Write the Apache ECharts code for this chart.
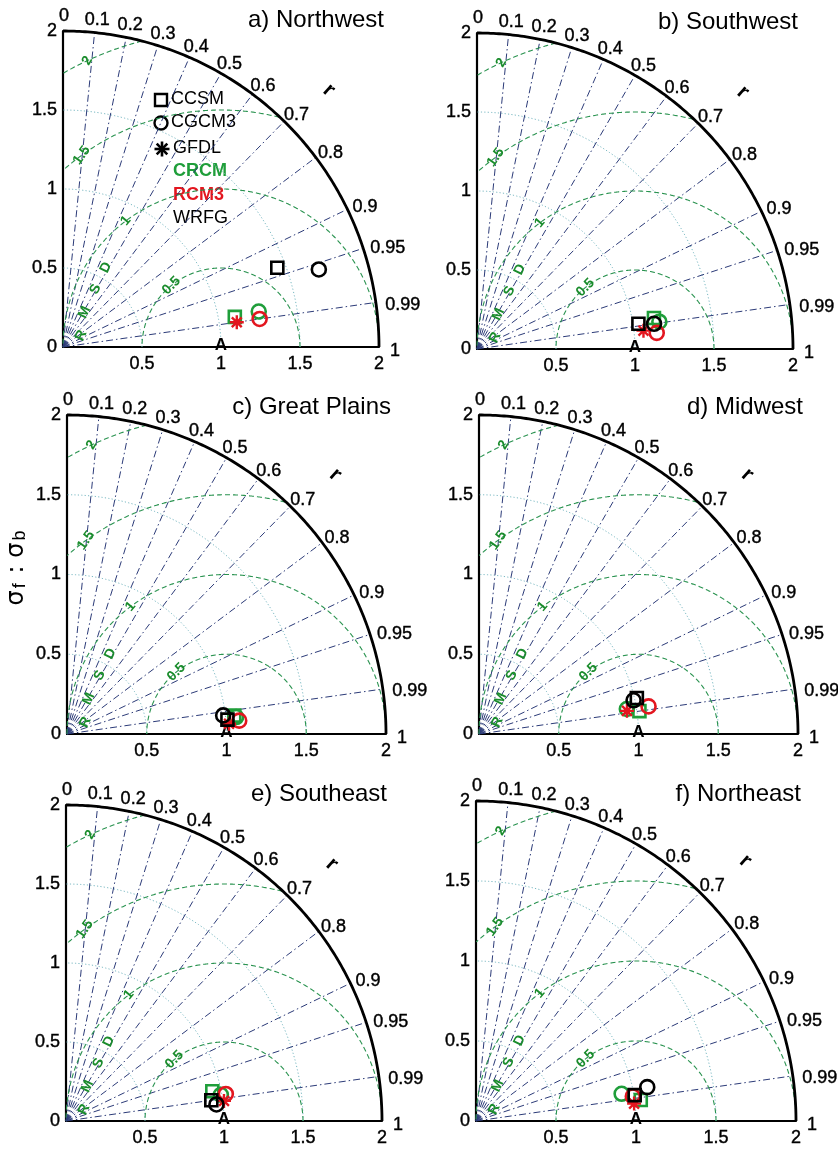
<!DOCTYPE html>
<html><head><meta charset="utf-8">
<script src="https://cdn.jsdelivr.net/npm/echarts@6/dist/echarts.min.js"></script>
<style>html,body{margin:0;padding:0;background:#fff}#c{width:838px;height:1149px}</style>
</head><body><div id="c"></div>
<script>
// ---------------- DATA ----------------
const regionTitles = ['a) Northwest','b) Southwest','c) Great Plains','d) Midwest','e) Southeast','f) Northeast'];
const gcmNames = ['CCSM','CGCM3','GFDL'];
const rcmNames = ['CRCM','RCM3','WRFG'];
const corrTicks = [0,0.1,0.2,0.3,0.4,0.5,0.6,0.7,0.8,0.9,0.95,0.99,1];
const corrLines = [0.1,0.2,0.3,0.4,0.5,0.6,0.7,0.8,0.9,0.95,0.99];
const stdTicks = [0,0.5,1,1.5,2];
const stdArcs = [0.5,1,1.5];
const rmsdLevels = [0.5,1,1.5,2];
const rmsdLabels = ['0.5','1','1.5','2'];
const refLabel = 'A';
const corrAxisName = 'r';

// runs (RCM driven by GCM); values per region a..f
const runRCM = ['CRCM','CRCM','RCM3','RCM3','WRFG','WRFG'];
const runGCM = ['CCSM','CGCM3','CGCM3','GFDL','CCSM','CGCM3'];
// normalized standard deviation (sigma_f / sigma_b)
const std_CRCM_CCSM  = [1.104, 1.137, 1.055, 1.016, 0.945, 1.038];
const std_CRCM_CGCM3 = [1.259, 1.167, 1.066, 0.940, 0.994, 0.926];
const std_RCM3_CGCM3 = [1.257, 1.142, 1.083, 1.077, 1.026, 0.992];
const std_RCM3_GFDL  = [1.111, 1.060, 1.018, 0.939, 1.008, 0.994];
const std_WRFG_CCSM  = [1.446, 1.034, 1.010, 1.015, 0.929, 1.005];
const std_WRFG_CGCM3 = [1.692, 1.132, 0.986, 0.992, 0.958, 1.091];
// correlation
const corr_CRCM_CCSM  = [0.985, 0.985, 0.994, 0.990, 0.980, 0.992];
const corr_CRCM_CGCM3 = [0.984, 0.989, 0.995, 0.986, 0.986, 0.983];
const corr_RCM3_CGCM3 = [0.990, 0.996, 0.997, 0.987, 0.986, 0.988];
const corr_RCM3_GFDL  = [0.990, 0.994, 0.998, 0.988, 0.992, 0.994];
const corr_WRFG_CCSM  = [0.938, 0.988, 0.996, 0.975, 0.990, 0.987];
const corr_WRFG_CGCM3 = [0.957, 0.990, 0.993, 0.977, 0.994, 0.981];

const runStd  = [std_CRCM_CCSM, std_CRCM_CGCM3, std_RCM3_CGCM3, std_RCM3_GFDL, std_WRFG_CCSM, std_WRFG_CGCM3];
const runCorr = [corr_CRCM_CCSM, corr_CRCM_CGCM3, corr_RCM3_CGCM3, corr_RCM3_GFDL, corr_WRFG_CCSM, corr_WRFG_CGCM3];

// ---------------- STYLE / LAYOUT ----------------
const FONT = '"Liberation Sans", Arial, Helvetica, sans-serif';
const rcmColor = {CRCM:'#1f9e3a', RCM3:'#e3161f', WRFG:'#000000'};
const GREEN_LINE = '#2a9350', GREEN_TXT = '#1a8c2c';
const NAVY = '#2c3b78', TEAL = '#78b8c2';

const layout = [
  {left:63,  top:31,  size:316},
  {left:477, top:33,  size:316},
  {left:67,  top:415, size:319},
  {left:479, top:415, size:319},
  {left:66,  top:805, size:316},
  {left:476, top:801, size:320}
];

function asteriskPath(){
  const L = 10, w = 1.7; let s = '';
  [0,45,90,135].forEach(a=>{
    const r = a*Math.PI/180, c = Math.cos(r), sn = Math.sin(r);
    const px = -sn*w, py = c*w;
    const p = [[L*c+px, L*sn+py],[L*c-px, L*sn-py],[-L*c-px,-L*sn-py],[-L*c+px,-L*sn+py]];
    s += 'M'+p.map(q=>q[0].toFixed(2)+' '+q[1].toFixed(2)).join(' L')+' Z ';
  });
  return 'path://'+s;
}
const gcmSymbol = {CCSM:'rect', CGCM3:'circle', GFDL: asteriskPath()};
const gcmSize = {CCSM:12, CGCM3:14, GFDL:14};

const tickLabelStyle = {fontSize:18, color:'#000', fontFamily:FONT, textBorderColor:'#000', textBorderWidth:0.4};

function furniture(api){
  const P = (x,y)=>api.coord([x,y]);
  const ch = [];
  const D = Math.PI/180;
  // std dev arcs (dotted)
  stdArcs.forEach(s=>{
    const pts=[]; for(let k=0;k<=180;k++){const a=k*0.5*D; pts.push(P(s*Math.cos(a), s*Math.sin(a)));}
    ch.push({type:'polyline', shape:{points:pts}, style:{stroke:TEAL, lineWidth:1, lineDash:[1.2,2.2], fill:null}});
  });
  // correlation radial lines
  corrLines.forEach(r=>{
    const t=Math.acos(r); const a=P(0,0), b=P(2*Math.cos(t), 2*Math.sin(t));
    ch.push({type:'line', shape:{x1:a[0],y1:a[1],x2:b[0],y2:b[1]}, style:{stroke:NAVY, lineWidth:1, lineDash:[7,3,1.5,3]}});
  });
  // RMSD arcs around reference (1,0)
  rmsdLevels.forEach(d=>{
    const pts=[];
    for(let k=0;k<=720;k++){const f=k/720*Math.PI; const x=1+d*Math.cos(f), y=d*Math.sin(f);
      if(x>=-1e-6 && x*x+y*y<=4.0001) pts.push(P(x,y));}
    ch.push({type:'polyline', shape:{points:pts}, style:{stroke:GREEN_LINE, lineWidth:1.1, lineDash:[5,3], fill:null}});
  });
  // outer arc
  const op=[]; for(let k=0;k<=180;k++){const a=k*0.5*D; op.push(P(2*Math.cos(a),2*Math.sin(a)));}
  ch.push({type:'polyline', shape:{points:op}, style:{stroke:'#000', lineWidth:2.8, fill:null}});
  // correlation labels
  corrTicks.forEach(r=>{
    const t=Math.acos(r), s=Math.sin(t), c=Math.cos(t);
    const p=P(2*c,2*s);
    let dx=-11*s+11*c, dy=-13*s+4*c, al='left';
    if(r===0){dx=1;dy=-15;al='center';}
    ch.push({type:'text', x:p[0]+dx, y:p[1]+dy, style:{text:String(r), fill:'#000', fontSize:18, fontFamily:FONT, align:al, verticalAlign:'middle', stroke:'#000', lineWidth:0.4}});
  });
  // RMSD labels
  const rmsdAng=[129,127,126,115], rmsdRot=[45,50,55,60];
  rmsdLevels.forEach((d,i)=>{
    const f=rmsdAng[i]*D; const p=P(1+d*Math.cos(f), d*Math.sin(f));
    ch.push({type:'text', x:p[0], y:p[1], rotation:rmsdRot[i]*D, style:{text:rmsdLabels[i], fill:GREEN_TXT, fontSize:14, fontWeight:'bold', fontFamily:FONT, align:'center', verticalAlign:'middle'}});
  });
  // "RMSD" letters
  const letters=['R','M','S','D'], lp=[[0.115,0.073],[0.136,0.22],[0.205,0.367],[0.272,0.503]];
  letters.forEach((L,i)=>{
    const p=P(lp[i][0],lp[i][1]);
    ch.push({type:'text', x:p[0], y:p[1], rotation:65*D, style:{text:L, fill:GREEN_TXT, fontSize:14, fontWeight:'bold', fontFamily:FONT, align:'center', verticalAlign:'middle'}});
  });
  // reference point label
  const ap=P(1,0);
  ch.push({type:'text', x:ap[0], y:ap[1]-2, style:{text:refLabel, fill:'#000', fontSize:17, fontWeight:'bold', fontFamily:FONT, align:'center', verticalAlign:'middle'}});
  // "r" label
  const rp=P(2.34*Math.cos(44*D), 2.34*Math.sin(44*D));
  ch.push({type:'text', x:rp[0], y:rp[1], rotation:-42*D, style:{text:corrAxisName, fill:'#000', fontSize:21, fontWeight:'bold', fontFamily:FONT, align:'center', verticalAlign:'middle'}});
  return ch;
}

const grid=[], xAxis=[], yAxis=[], series=[], graphic=[];
layout.forEach((p,i)=>{
  grid.push({left:p.left, top:p.top, width:p.size, height:p.size});
  xAxis.push({type:'value', gridIndex:i, min:stdTicks[0], max:stdTicks[stdTicks.length-1], interval:0.5,
    axisLine:{show:true, onZero:false, lineStyle:{color:'#000', width:2.2}}, axisTick:{show:false}, splitLine:{show:false},
    axisLabel:Object.assign({margin:8, formatter:v=>v===0?'':String(v)}, tickLabelStyle)});
  yAxis.push({type:'value', gridIndex:i, min:stdTicks[0], max:stdTicks[stdTicks.length-1], interval:0.5,
    axisLine:{show:true, onZero:false, lineStyle:{color:'#000', width:2.2}}, axisTick:{show:false}, splitLine:{show:false},
    axisLabel:Object.assign({margin:6, formatter:v=>String(v)}, tickLabelStyle)});
  series.push({type:'custom', xAxisIndex:i, yAxisIndex:i, data:[[0,0]], silent:true, clip:false, z:1,
    renderItem:(params, api)=>({type:'group', children:furniture(api)})});
  // model runs (green, red, black order)
  runRCM.forEach((rcm,k)=>{
    const gcm=runGCM[k], s=runStd[k][i], r=runCorr[k][i];
    const col=rcmColor[rcm];
    const isAst = gcm==='GFDL';
    series.push({type:'scatter', name:rcm+'-'+gcm, xAxisIndex:i, yAxisIndex:i, z:5,
      symbol:gcmSymbol[gcm], symbolSize:gcmSize[gcm],
      itemStyle: isAst ? {color:col, opacity:1} : {color:'rgba(0,0,0,0)', borderColor:col, borderWidth:2.6, opacity:1},
      data:[[s*r, s*Math.sqrt(1-r*r)]]});
  });
  // panel title
  graphic.push({type:'text', x:p.left+p.size+5, y:p.top+p.size-327,
    style:{text:regionTitles[i], fill:'#000', fontSize:24, fontFamily:FONT, align:'right', verticalAlign:'middle'}});
});

// legend (in panel a)
const lg = {type:'group', children:[]};
const lx = 161, ly = [100,123,149];
lg.children.push({type:'rect', shape:{x:lx-6, y:ly[0]-6, width:12, height:12}, style:{stroke:'#000', lineWidth:2.4, fill:null}});
lg.children.push({type:'circle', shape:{cx:lx, cy:ly[1], r:6.5}, style:{stroke:'#000', lineWidth:2.4, fill:null}});
[0,45,90,135].forEach(a=>{const r=a*Math.PI/180; lg.children.push({type:'line', shape:{x1:lx+1-7.5*Math.cos(r), y1:ly[2]-7.5*Math.sin(r), x2:lx+1+7.5*Math.cos(r), y2:ly[2]+7.5*Math.sin(r)}, style:{stroke:'#000', lineWidth:2.6}});});
gcmNames.forEach((n,i)=>{
  lg.children.push({type:'text', x:171+ (i===2?2:0), y:ly[i]-1, style:{text:n, fill:'#000', fontSize:18, fontFamily:FONT, align:'left', verticalAlign:'middle'}});
});
const rcmY=[171,195,218];
rcmNames.forEach((n,i)=>{
  lg.children.push({type:'text', x:173, y:rcmY[i], style:{text:n, fill:rcmColor[n], fontSize:18, fontWeight: n==='WRFG'?'normal':'bold', fontFamily:FONT, align:'left', verticalAlign:'middle'}});
});
graphic.push(lg);

// shared y-axis title
graphic.push({type:'text', x:17, y:567, rotation:Math.PI/2,
  style:{text:'{s|σ}{b|f}{s| : σ}{b|b}', align:'center', verticalAlign:'middle', fill:'#000',
    rich:{s:{fontSize:24, fontFamily:'"DejaVu Sans", sans-serif', fill:'#000', verticalAlign:'bottom'},
          b:{fontSize:18, fontFamily:FONT, fill:'#000', verticalAlign:'bottom', padding:[0,2,0,2]}}}});

const chart = echarts.init(document.getElementById('c'));
chart.setOption({animation:false, backgroundColor:'#fff', grid, xAxis, yAxis, series, graphic});
</script>
</body></html>
